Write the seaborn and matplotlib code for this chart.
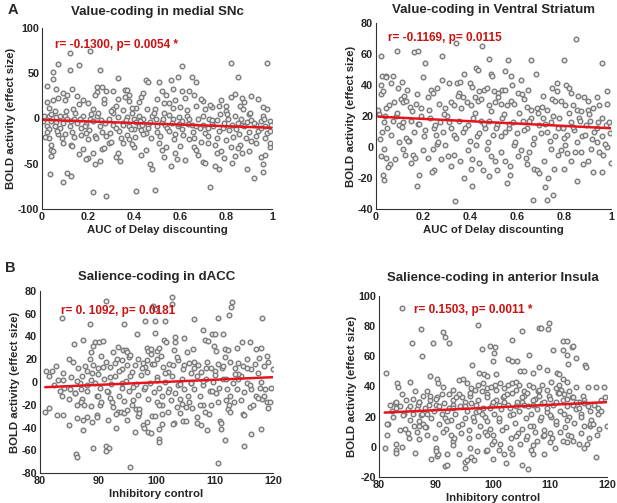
import matplotlib
matplotlib.use("Agg")
import matplotlib.pyplot as plt
import seaborn as sns
import pandas as pd

# ---- panel A1: medial SNc vs AUC ----
snc_auc = [0.21, 0.12, 0.07, 0.16, 0.25, 0.12, 0.05, 0.05, 0.33, 0.61, 0.82, 0.98, 0.85, 0.65, 0.67, 0.59, 0.56, 0.45, 0.46, 0.51,
           0.02, 0.13, 0.24, 0.26, 0.24, 0.36, 0.37, 0.57, 0.54, 0.61, 0.66, 0.82, 0.91, 0.09, 0.11, 0.07, 0.05, 0.02, 0.18, 0.16,
           0.28, 0.31, 0.38, 0.43, 0.33, 0.38, 0.42, 0.49, 0.53, 0.58, 0.62, 0.70, 0.74, 0.77, 0.80, 0.86, 0.96, 0.90, 0.96, 0.22,
           0.27, 0.31, 0.01, 0.03, 0.06, 0.08, 0.10, 0.04, 0.06, 0.02, 0.03, 0.08, 0.10, 0.12, 0.14, 0.15, 0.17, 0.18, 0.19, 0.21,
           0.24, 0.25, 0.26, 0.29, 0.31, 0.33, 0.35, 0.37, 0.38, 0.40, 0.41, 0.42, 0.43, 0.44, 0.46, 0.48, 0.50, 0.52, 0.535, 0.55,
           0.57, 0.59, 0.61, 0.63, 0.65, 0.67, 0.70, 0.72, 0.74, 0.76, 0.79, 0.81, 0.825, 0.85, 0.87, 0.89, 0.91, 0.93, 0.95, 0.97,
           0.99, 0.03, 0.04, 0.04, 0.04, 0.035, 0.09, 0.11, 0.125, 0.09, 0.125, 0.16, 0.18, 0.20, 0.20, 0.22, 0.23, 0.25, 0.22, 0.26,
           0.29, 0.28, 0.30, 0.32, 0.34, 0.35, 0.38, 0.40, 0.41, 0.43, 0.47, 0.48, 0.49, 0.51, 0.52, 0.54, 0.56, 0.58, 0.585, 0.62,
           0.64, 0.66, 0.67, 0.69, 0.70, 0.71, 0.73, 0.75, 0.75, 0.76, 0.77, 0.78, 0.80, 0.82, 0.825, 0.84, 0.86, 0.87, 0.89, 0.90,
           0.92, 0.93, 0.95, 0.96, 0.96, 0.99, 0.99, 0.005, 0.02, 0.055, 0.07, 0.09, 0.11, 0.13, 0.145, 0.17, 0.185, 0.205, 0.22, 0.23,
           0.245, 0.275, 0.295, 0.31, 0.335, 0.35, 0.37, 0.39, 0.40, 0.425, 0.435, 0.45, 0.47, 0.485, 0.50, 0.525, 0.545, 0.565, 0.577, 0.597,
           0.61, 0.635, 0.655, 0.68, 0.707, 0.727, 0.745, 0.768, 0.79, 0.812, 0.838, 0.855, 0.878, 0.90, 0.92, 0.94, 0.965, 0.98, 0.997, 0.35,
           0.455, 0.63, 0.80, 0.875, 0.135, 0.055, 0.775, 0.67, 0.57, 0.41,
           0.015, 0.04, 0.065, 0.085, 0.105, 0.125, 0.14, 0.165, 0.19, 0.215, 0.235, 0.255, 0.28, 0.30, 0.32, 0.345, 0.365, 0.385, 0.405, 0.42,
           0.44, 0.46, 0.475, 0.495, 0.515, 0.53, 0.55, 0.575, 0.595, 0.615, 0.64, 0.66, 0.685, 0.70, 0.72, 0.74, 0.76, 0.785, 0.805, 0.83,
           0.845, 0.865, 0.885, 0.905, 0.93, 0.95, 0.97, 0.99, 0.03, 0.10, 0.15, 0.20, 0.27, 0.32, 0.36, 0.44, 0.50, 0.55, 0.60, 0.64,
           0.69, 0.73, 0.78, 0.84, 0.88, 0.94, 0.98, 0.06, 0.23, 0.39, 0.52, 0.71, 0.87, 0.05, 0.13, 0.19, 0.27, 0.33, 0.39, 0.45,
           0.53, 0.60, 0.68, 0.72, 0.79, 0.85, 0.91, 0.97]
snc_bold = [75, 72, 60, 59, 54, 54, 51, 44, 45, 58, 61, 61, 46, 46, 40, 46, 42, 43, 40, 40,
            36, 33, 35, 35, 29, 32, 32, 33, 26, 30, 26, 24, 25, 28, 26, 23, 20, 18, 20, 16,
            30, 30, 26, 24, 21, 19, 18, 11, 17, 20, 23, 19, 13, 14, 14, 14, 13, 5, 3, 11,
            17, 10, 3, 3, 2, 3, 3, -3, -4, -8, -12, -11, -17, -8, 0, -5, -10, 3, -6, -1,
            3, -8, -15, 0, -7, 2, -5, 2, -8, -1, -4, -8, -13, 0, -7, 3, -8, -4, -7, 4,
            0, -8, -3, 3, -7, -8, -7, -11, -5, -2, -8, 0, -7, -5, -7, -4, -2, -7, -3, -8,
            -3, -22, -29, -35, -41, -61, -70, -60, -64, -27, -29, -39, -34, -23, -44, -38, -50, -47, -81, -34,
            -27, -86, -26, -42, -47, -27, -23, -31, -80, -40, -50, -56, -79, -27, -35, -31, -53, -38, -45, -46,
            -23, -31, -35, -26, -48, -49, -76, -29, -53, -38, -56, -36, -24, -31, -49, -41, -29, -38, -56, -36,
            -66, -27, -42, -50, -59, -32, -27, -3, -15, -8, -17, -5, -1, -15, 6, -18, -8, -13, -3, -19,
            6, -5, -16, 6, -14, -7, -18, 6, -12, -3, -7, -16, -4, 6, -15, 0, -11, -5, -17, 2,
            -12, -6, -15, -1, -16, 0, -8, -14, -5, -13, 3, -17, -8, -15, -5, -14, 0, -16, -7, 9,
            11, 9, 8, 10, 10, 8, 5, 14, 12, 12,
            -20, 5, -14, -22, 8, -3, -20, 0, -16, 5, -22, -2, -19, 8, -10, -21, -2, -12, -20, 3,
            -17, -10, -22, -1, -19, 6, -14, -23, -6, -18, 0, -21, -10, 3, -19, -2, -22, -11, 5, -20,
            -12, -1, -22, 6, -19, -10, -22, -14, 12, 20, 25, 17, 22, 14, 24, 28, 21, 17, 13, 30,
            22, 15, 20, 27, 18, 21, 11, 33, 26, 12, 30, 11, 23, -36, -30, -45, -33, -38, -28, -35,
            -42, -30, -40, -27, -44, -33, -25, -40]

# ---- panel A2: ventral striatum vs AUC ----
vs_auc = [0.85, 0.02, 0.09, 0.16, 0.18, 0.28, 0.34, 0.45, 0.21, 0.48, 0.56, 0.66, 0.80, 0.96, 0.025, 0.044, 0.044, 0.074, 0.20, 0.28,
          0.31, 0.375, 0.425, 0.434, 0.49, 0.495, 0.55, 0.575, 0.68, 0.615, 0.02, 0.063, 0.094, 0.11, 0.13, 0.175, 0.233, 0.244, 0.343, 0.357,
          0.40, 0.41, 0.46, 0.474, 0.50, 0.52, 0.536, 0.55, 0.605, 0.62, 0.647, 0.77, 0.81, 0.77, 0.86, 0.885, 0.82, 0.985, 0.02, 0.057,
          0.077, 0.043, 0.105, 0.114, 0.128, 0.145, 0.17, 0.19, 0.27, 0.295, 0.32, 0.33, 0.355, 0.37, 0.386, 0.405, 0.42, 0.434, 0.448, 0.48,
          0.505, 0.53, 0.556, 0.573, 0.587, 0.644, 0.66, 0.684, 0.708, 0.726, 0.749, 0.763, 0.786, 0.806, 0.837, 0.854, 0.874, 0.90, 0.922, 0.95,
          0.984, 0.014, 0.034, 0.025, 0.048, 0.071, 0.085, 0.096, 0.116, 0.128, 0.147, 0.162, 0.179, 0.193, 0.21, 0.23, 0.247, 0.255, 0.272, 0.286,
          0.30, 0.318, 0.332, 0.355, 0.372, 0.392, 0.414, 0.431, 0.445, 0.465, 0.482, 0.499, 0.516, 0.536, 0.548, 0.565, 0.582, 0.60, 0.624, 0.641,
          0.658, 0.672, 0.692, 0.712, 0.729, 0.746, 0.763, 0.78, 0.794, 0.811, 0.828, 0.843, 0.862, 0.877, 0.894, 0.91, 0.928, 0.945, 0.962, 0.979,
          0.996, 0.017, 0.034, 0.023, 0.043, 0.06, 0.031, 0.034, 0.082, 0.096, 0.116, 0.125, 0.139, 0.159, 0.167, 0.182, 0.176, 0.198, 0.221, 0.241,
          0.247, 0.261, 0.275, 0.295, 0.306, 0.332, 0.338, 0.357, 0.375, 0.392, 0.403, 0.409, 0.425, 0.44, 0.454, 0.474, 0.49, 0.505, 0.516, 0.533,
          0.55, 0.559, 0.57, 0.587, 0.604, 0.618, 0.641, 0.652, 0.666, 0.672, 0.684, 0.695, 0.715, 0.72, 0.726, 0.743, 0.752, 0.757, 0.775, 0.789,
          0.806, 0.814, 0.831, 0.854, 0.848, 0.871, 0.90, 0.916, 0.925, 0.942, 0.95, 0.967, 0.984, 0.999,
          0.01, 0.04, 0.065, 0.09, 0.11, 0.135, 0.155, 0.185, 0.205, 0.225, 0.25, 0.265, 0.29, 0.31, 0.34, 0.36, 0.38, 0.40, 0.42, 0.44,
          0.46, 0.475, 0.49, 0.51, 0.53, 0.545, 0.565, 0.59, 0.61, 0.63, 0.65, 0.67, 0.69, 0.70, 0.72, 0.74, 0.755, 0.775, 0.80, 0.82,
          0.84, 0.855, 0.87, 0.89, 0.905, 0.92, 0.94, 0.96, 0.975, 0.99, 0.03, 0.12, 0.22, 0.26, 0.35, 0.44, 0.52, 0.58, 0.63, 0.71,
          0.75, 0.83, 0.90, 0.94, 0.05, 0.15, 0.24, 0.32, 0.41, 0.48, 0.57, 0.64, 0.73, 0.80, 0.88, 0.96]
vs_bold = [70, 59, 62, 61, 62, 59, 67, 65, 54, 57, 56, 56, 56, 54, 46, 46, 45, 46, 45, 43,
           41, 47, 51, 50, 47, 46, 49, 46, 47, 43, 40, 41, 38, 42, 37, 34, 37, 35, 41, 42,
           41, 39, 37, 38, 36, 35, 37, 37, 35, 34, 37, 41, 40, 36, 33, 32, 38, 36, 34, 27,
           29, 25, 31, 29, 30, 26, 28, 25, 28, 25, 29, 27, 35, 32, 29, 27, 32, 30, 31, 27,
           29, 28, 27, 30, 28, 26, 24, 25, 26, 24, 31, 30, 30, 27, 27, 24, 23, 24, 25, 27,
           28, 21, 16, 10, 12, 17, 20, 14, 16, 6, 17, 10, 15, 20, 11, 19, 12, 8, 16, 10,
           20, 12, 8, 17, 10, 14, 19, 7, 17, 12, 17, 8, 14, 19, 10, 12, 16, 9, 17, 12,
           19, 6, 14, 19, 10, 16, 7, 19, 12, 8, 16, 11, 19, 7, 14, 17, 10, 16, 7, 14,
           9, 5, -1, -6, -7, -11, -18, -21, -8, 3, -1, -5, 4, -5, -7, -18, -25, -2, -7, -1,
           -15, 2, -8, 1, -6, -5, -35, -9, -20, -2, -14, -25, 1, -10, -15, -1, -6, -9, -15, -3,
           -9, -23, -18, 1, -6, -2, -11, -3, -34, -14, -15, -17, -9, -26, -34, -1, -31, -14, -5, -2,
           1, -4, -9, -22, -3, -3, -9, -1, -16, 3, -3, -5, 0, -10,
           24, 20, 8, 22, 13, 4, 23, 15, 7, 24, 14, 3, 21, 16, 6, 25, 12, 4, 22, 9,
           15, 3, 23, 12, 7, 21, 15, 3, 22, 11, 17, 2, 22, 9, 15, 4, 20, 12, 6, 22,
           13, 3, 17, 8, 21, 5, 12, 19, 2, 16, 36, 33, 32, 38, 33, 36, 32, 40, 31, 33,
           38, 35, 30, 32, -13, -10, -16, -12, -8, -19, -12, -7, -20, -14, -11, -16]

# ---- panel B1: dACC vs inhibitory control ----
dacc_ic = [102.6, 102.6, 112.9, 112.8, 112.5, 91.3, 83.8, 88.6, 94.5, 99.4, 99.7, 99.7, 98.1, 101.5, 106.4, 110.6, 118.1, 96.6, 99.8, 103.1,
           104.8, 108.0, 109.6, 110.0, 111.5, 85.8, 87.3, 89.4, 90.1, 90.9, 88.8, 89.1, 90.5, 92.5, 93.4, 94.3, 94.7, 95.0, 98.3, 98.5,
           99.1, 100.0, 100.4, 101.3, 101.6, 103.2, 105.2, 106.2, 108.3, 108.9, 109.9, 110.3, 111.8, 112.2, 113.9, 114.6, 116.1, 117.1, 117.9, 119.0,
           84.9, 85.7, 82.7, 81.1, 85.4, 87.2, 86.9, 87.7, 88.6, 89.1, 90.0, 90.8, 91.4, 92.0, 92.8, 93.2, 94.0, 94.9, 95.2, 96.3,
           96.8, 97.7, 98.3, 99.2, 100.1, 100.8, 101.1, 102.1, 102.8, 103.7, 104.7, 105.6, 106.4, 107.2, 107.7, 108.6, 109.4, 110.6, 111.3, 111.7,
           112.6, 113.4, 114.0, 114.9, 115.6, 116.3, 116.9, 117.6, 118.4, 119.2, 120.0, 81.5, 82.4, 83.1, 83.8, 84.2, 85.2, 86.3, 87.0, 88.0,
           88.7, 89.5, 89.8, 90.3, 91.0, 91.7, 92.2, 92.9, 93.6, 94.1, 94.7, 95.3, 95.8, 96.4, 96.9, 97.3, 97.9, 98.4, 98.8, 99.5,
           100.0, 100.5, 100.9, 101.5, 102.1, 102.6, 103.1, 103.7, 104.3, 104.8, 105.4, 105.9, 106.4, 107.0, 107.5, 108.0, 108.5, 109.1, 109.7, 110.2,
           110.8, 111.5, 112.1, 112.6, 113.2, 113.9, 114.5, 115.0, 115.5, 116.3, 117.0, 117.7, 118.1, 118.6, 119.6, 80.9, 81.6, 82.9, 83.9, 86.3,
           87.2, 87.1, 87.4, 87.4, 86.4, 88.1, 88.8, 89.7, 89.8, 90.3, 89.1, 86.2, 86.3, 91.3, 91.8, 91.4, 91.6, 92.4, 93.4, 93.9,
           94.4, 95.0, 95.5, 95.8, 96.3, 96.8, 97.7, 97.9, 98.5, 98.3, 99.2, 99.7, 100.4, 100.4, 100.4, 100.9, 102.0, 103.0, 102.9, 104.3,
           104.6, 105.1, 106.1, 106.9, 107.7, 108.3, 108.6, 109.4, 110.6, 110.9, 111.0, 111.8, 112.3, 112.6, 113.3, 114.9, 115.1, 116.2, 117.4, 119.2,
           119.0, 84.0, 86.0, 88.0, 90.0, 92.0, 94.0, 96.0, 98.0, 100.0, 102.0, 104.0, 106.0, 108.0, 110.0, 112.0, 114.0, 116.0, 95.5, 103.5,
           82.0, 83.5, 85.0, 86.5, 87.5, 89.0, 90.5, 91.5, 92.5, 93.5, 94.5, 95.5, 96.5, 97.5, 98.5, 99.5, 100.5, 101.5, 102.5, 103.5,
           104.5, 105.5, 106.5, 107.5, 108.5, 109.5, 110.5, 111.5, 112.5, 113.5, 114.5, 115.5, 116.5, 117.5, 118.5, 119.5, 84.0, 88.0, 92.0, 96.0,
           100.0, 104.0, 108.0, 112.0, 116.0, 86.0, 90.0, 94.0, 98.0, 102.0, 106.0, 110.0, 114.0, 118.0, 93.0, 97.0, 101.0, 105.0, 109.0, 99.0,
           103.0, 85.0, 89.0, 93.0, 95.0, 97.0, 99.0, 101.0, 104.0, 107.0, 111.0, 115.0, 118.0]
dacc_bold = [75, 69, 70, 66, 59, 71, 56, 51, 51, 67, 64, 54, 54, 54, 55, 56, 56, 42, 43, 40,
             39, 46, 42, 42, 42, 33, 37, 35, 35, 36, 26, 32, 23, 26, 31, 28, 28, 26, 30, 27,
             29, 27, 30, 37, 35, 35, 26, 29, 37, 36, 32, 27, 29, 28, 30, 35, 35, 29, 30, 23,
             20, 18, 14, 10, 4, 5, -1, 14, 20, 15, 12, 13, 18, 13, 17, 20, 19, 15, 22, 15,
             20, 17, 19, 16, 20, 23, 13, 16, 15, 19, 15, 17, 12, 15, 9, 18, 12, 16, 12, 22,
             18, 12, 17, 14, 20, 11, 16, 21, 14, 18, 11, 5, -3, 2, -12, -5, -6, 1, -6, -8,
             2, -1, -12, -5, 3, -9, -2, 5, -12, -5, 1, -8, 9, -2, -11, 6, -6, 9, -1, -9,
             4, -5, -12, 0, -6, 5, -10, -3, 3, -6, -12, -1, -6, 5, -12, -3, 3, -8, 0, -10,
             -5, 3, -6, -12, -1, -6, 5, -9, -1, -6, -12, -5, -15, -6, -5, -26, -23, -29, -29, -20,
             -15, -18, -33, -42, -32, -31, -21, -29, -31, -20, -58, -63, -66, -56, -58, -61, -33, -18, -26, -26,
             -27, -25, -75, -20, -44, -30, -38, -40, -44, -35, -30, -30, -50, -53, -41, -20, -26, -36, -37, -19,
             -34, -34, -23, -36, -38, -26, -42, -20, -71, -34, -41, -51, -24, -26, -18, -28, -56, -46, -14, -23,
             -18, 8, -10, 10, 7, -14, 11, -16, 13, -18, 9, -15, 8, -20, 10, -16, 7, -22, 24, 22,
             10, -8, -15, 12, -20, 8, -18, -8, -22, 10, -17, 5, -24, 12, -15, 16, -20, 8, -16, -22,
             11, -18, 18, -20, 12, -8, -18, 14, -20, 7, -16, 12, -20, 8, -12, -18, 2, -3, 4, -4,
             2, -2, 1, 3, -3, -10, -12, -1, -4, -9, -1, 6, 3, 0, -28, -24, -28, -22, -28, 25,
             28, -38, -35, -40, -33, -27, -45, -37, -27, -31, -36, -29, -41]

# ---- panel B2: anterior insula vs inhibitory control ----
ains_ic = [84.0, 87.4, 91.2, 91.6, 92.2, 85.8, 89.5, 87.6, 97.3, 105.0, 108.0, 108.5, 109.9, 109.7, 98.1, 99.5, 100.4, 100.1, 100.0, 103.4,
           106.4, 110.6, 112.2, 113.0, 112.2, 113.0, 113.8, 114.0, 113.1, 114.6, 116.1, 116.3, 96.3, 97.6, 98.5, 99.0, 100.6, 102.7, 103.3, 104.2,
           104.7, 105.4, 107.0, 108.1, 109.4, 111.2, 111.6, 112.2, 113.0, 81.3, 83.2, 83.4, 85.5, 86.3, 87.1, 86.9, 89.0, 90.2, 90.3, 88.5,
           91.3, 92.2, 93.0, 94.0, 94.7, 95.4, 96.2, 96.8, 97.4, 98.3, 98.9, 99.6, 100.4, 101.2, 102.0, 102.6, 103.3, 104.1, 104.6, 105.4,
           106.3, 107.1, 107.9, 108.6, 109.5, 110.2, 111.0, 111.6, 112.4, 113.3, 114.6, 115.8, 116.6, 118.0, 119.5, 81.6, 82.2, 82.8, 83.6, 84.4,
           84.8, 85.4, 86.2, 86.6, 87.4, 87.8, 88.2, 88.8, 89.2, 89.6, 90.2, 90.6, 91.0, 91.4, 91.8, 92.2, 92.6, 93.0, 93.4, 93.8,
           94.2, 94.6, 95.0, 95.4, 95.8, 96.2, 96.6, 97.0, 97.4, 97.8, 98.2, 98.6, 99.0, 99.4, 99.8, 100.2, 100.6, 101.0, 101.4, 101.8,
           102.2, 102.6, 103.0, 103.4, 103.8, 104.2, 104.6, 105.0, 105.4, 105.8, 106.2, 106.6, 107.0, 107.4, 107.8, 108.2, 108.6, 109.0, 109.4, 109.8,
           110.2, 110.6, 111.0, 111.4, 111.8, 112.2, 112.6, 113.0, 113.4, 113.8, 114.2, 114.6, 115.0, 115.4, 116.0, 116.6, 117.2, 117.8, 118.4, 119.0,
           119.6, 82.0, 83.0, 84.2, 85.0, 86.0, 87.0, 88.0, 89.0, 90.0, 91.0, 92.0, 93.0, 94.0, 95.0, 96.0, 97.0, 98.0, 99.0, 100.0,
           101.0, 102.0, 103.0, 104.0, 105.0, 106.0, 107.0, 108.0, 109.0, 110.0, 111.0, 112.0, 113.0, 114.0, 115.0, 116.0, 117.0, 81.0, 81.4, 81.4,
           82.9, 83.0, 84.0, 85.3, 86.4, 87.0, 87.8, 88.0, 89.1, 90.1, 90.3, 90.0, 91.6, 91.9, 91.9, 92.9, 93.2, 94.0, 95.0, 95.4,
           96.1, 96.6, 97.2, 98.7, 99.0, 99.9, 100.2, 101.3, 101.9, 102.3, 103.0, 103.4, 104.8, 105.8, 106.1, 106.6, 107.1, 107.7, 108.8, 108.9,
           110.0, 110.9, 112.2, 113.2, 114.0, 115.0, 116.5, 118.1, 120.0, 117.0, 118.2, 83.6, 85.0, 86.6, 88.4, 89.8, 91.2, 92.6, 94.4, 95.8,
           97.4, 98.6, 100.0, 101.6, 103.2, 104.4, 106.0, 107.4, 109.0, 110.4, 111.8, 113.6, 115.4, 116.8, 118.6,
           82.5, 84.0, 85.5, 87.0, 88.5, 90.0, 91.5, 93.0, 94.5, 96.0, 97.5, 99.0, 100.5, 102.0, 103.5, 105.0, 106.5, 108.0, 109.5, 111.0,
           112.5, 114.0, 115.5, 117.0, 118.5, 83.0, 86.0, 89.0, 92.0, 95.0, 98.0, 101.0, 104.0, 107.0, 110.0, 113.0, 116.0, 119.0, 84.5, 87.5,
           90.5, 93.5, 96.5, 99.5, 102.5, 105.5, 108.5, 111.5, 114.5, 117.5, 83.0, 87.0, 90.0, 93.0, 96.0, 99.0, 101.0, 104.0, 107.0, 110.0,
           113.0, 116.0, 95.0, 100.0, 105.0]
ains_bold = [92, 78, 76, 73, 69, 69, 69, 60, 81, 77, 79, 79, 82, 78, 65, 67, 66, 62, 57, 71,
             61, 64, 70, 70, 64, 61, 66, 67, 55, 59, 54, 53, 54, 49, 48, 47, 48, 58, 57, 57,
             50, 50, 49, 53, 51, 49, 48, 45, 43, 49, 42, 40, 43, 37, 30, 28, 47, 45, 42, 37,
             40, 35, 38, 44, 45, 42, 39, 38, 41, 42, 39, 40, 41, 42, 39, 41, 42, 43, 41, 37,
             41, 40, 37, 41, 38, 43, 39, 41, 35, 37, 40, 34, 40, 40, 40, 15, 24, 29, 27, 22,
             31, 18, 14, 25, 21, 34, 13, 28, 19, 24, 33, 15, 22, 29, 12, 26, 18, 31, 22, 14,
             27, 33, 19, 24, 11, 29, 17, 23, 31, 14, 26, 20, 35, 12, 28, 22, 31, 17, 25, 33,
             13, 28, 21, 36, 16, 30, 24, 12, 34, 19, 27, 22, 14, 32, 25, 18, 29, 11, 23, 34,
             20, 28, 15, 36, 24, 31, 13, 27, 20, 33, 16, 25, 30, 22, 14, 27, 18, 28, 26, 31,
             33, 28, 26, 21, 25, 32, 30, 26, 31, 28, 35, 24, 28, 35, 30, 34, 28, 37, 33, 30,
             28, 34, 26, 38, 30, 36, 28, 34, 30, 32, 30, 38, 32, 28, 26, 31, 24, -1, 8, 15,
             -2, -4, 0, 6, -4, 14, 15, 13, -8, -6, -5, -1, -13, -12, -5, 4, 6, -5, -10, -9,
             -7, -9, -3, -3, -2, 2, 4, 2, -5, -11, -1, -5, 2, 5, -15, -2, -5, 4, 7, -5,
             3, -1, 4, 8, 4, 2, 2, -7, 14, 14, 8, 11, 9, 10, 8, 6, 10, 8, 9, 6,
             7, 10, 8, 11, 6, 9, 7, 10, 8, 6, 10, 7, 9, 6, 12,
             20, 35, 27, 17, 22, 32, 19, 26, 15, 36, 24, 17, 38, 30, 22, 33, 14, 38, 26, 17,
             22, 33, 20, 15, 22, 30, 22, 34, 17, 27, 22, 19, 27, 31, 21, 18, 29, 24, 12, 22,
             27, 33, 20, 26, 35, 28, 20, 36, 30, 15, 2, 5, -3, 1, -1, 8, -2, 7, 1, 9,
             3, -1, -14, -8, -12]

titles = ["Value-coding in medial SNc", "Value-coding in Ventral Striatum",
          "Salience-coding in dACC", "Salience-coding in anterior Insula"]
stats_text = ["r= -0.1300, p= 0.0054 *", "r= -0.1169, p= 0.0115",
              "r= 0. 1092, p= 0.0181", "r= 0.1503, p= 0.0011 *"]
x_labels = ["AUC of Delay discounting", "AUC of Delay discounting",
            "Inhibitory control", "Inhibitory control"]
y_label = "BOLD activity (effect size)"

sns.set_style("white")
plt.rcParams["font.family"] = ["Liberation Sans", "DejaVu Sans"]
plt.rcParams["font.weight"] = "bold"
plt.rcParams["axes.labelweight"] = "bold"
plt.rcParams["axes.titleweight"] = "bold"
plt.rcParams["axes.unicode_minus"] = False

W, H = 617, 503
fig = plt.figure(figsize=(W / 100, H / 100), dpi=100)
fig.patch.set_facecolor("white")

# axes boxes in pixels: left, top, right, bottom
boxes = [(42, 28, 272, 209), (376, 23, 611, 209), (40, 291, 273, 473), (379, 296, 607, 477)]
data = [(snc_auc, snc_bold), (vs_auc, vs_bold), (dacc_ic, dacc_bold), (ains_ic, ains_bold)]
xlims = [(0, 1), (0, 1), (80, 120), (80, 120)]
ylims = [(-100, 100), (-40, 80), (-80, 80), (-20, 100)]
xticks = [[0, 0.2, 0.4, 0.6, 0.8, 1], [0, 0.2, 0.4, 0.6, 0.8, 1], [80, 90, 100, 110, 120], [80, 90, 100, 110, 120]]
yticks = [[-100, -50, 0, 50, 100], [-40, -20, 0, 20, 40, 60, 80],
          [-80, -60, -40, -20, 0, 20, 40, 60, 80], [-20, 0, 20, 40, 60, 80, 100]]
text_pos = [(0.057, 0.905), (0.05, 0.92), (0.09, 0.89), (0.154, 0.92)]
title_pad = [9, 7, 8, 11]

for i, (l, t, r, b) in enumerate(boxes):
    ax = fig.add_axes([l / W, (H - b) / H, (r - l) / W, (b - t) / H])
    df = pd.DataFrame({"x": data[i][0], "y": data[i][1]})
    sns.regplot(data=df, x="x", y="y", ax=ax, ci=None,
                scatter_kws=dict(s=11, facecolors="#ececec", edgecolors="#7c7c7c", linewidths=1.0, alpha=1),
                line_kws=dict(color="#e8141c", lw=1.8))
    ax.set_xlim(*xlims[i])
    ax.set_ylim(*ylims[i])
    ax.set_xticks(xticks[i])
    ax.set_xticklabels([f"{v:g}" for v in xticks[i]])
    ax.set_yticks(yticks[i])
    ax.set_yticklabels([f"{v:g}" for v in yticks[i]])
    ax.tick_params(direction="in", length=3, width=0.8, labelsize=7.8, pad=2)
    for lab in ax.get_xticklabels() + ax.get_yticklabels():
        lab.set_fontweight("bold")
    sns.despine(ax=ax)
    for s in ["left", "bottom"]:
        ax.spines[s].set_color("#333333")
        ax.spines[s].set_linewidth(0.8)
    ax.set_title(titles[i], fontsize=9.5, pad=title_pad[i])
    ax.set_xlabel(x_labels[i], fontsize=8.2, labelpad=2)
    ax.set_ylabel(y_label, fontsize=8.2, labelpad=1)
    ax.text(text_pos[i][0], text_pos[i][1], stats_text[i], transform=ax.transAxes,
            color="#cc1111", fontsize=8.5, fontweight="bold", va="center", ha="left")

fig.text(8 / W, 1 - 10 / H, "A", fontsize=10.5, fontweight="bold", va="center", ha="left")
fig.text(5 / W, 1 - 268 / H, "B", fontsize=10.5, fontweight="bold", va="center", ha="left")

fig.savefig("out.png", dpi=100)
